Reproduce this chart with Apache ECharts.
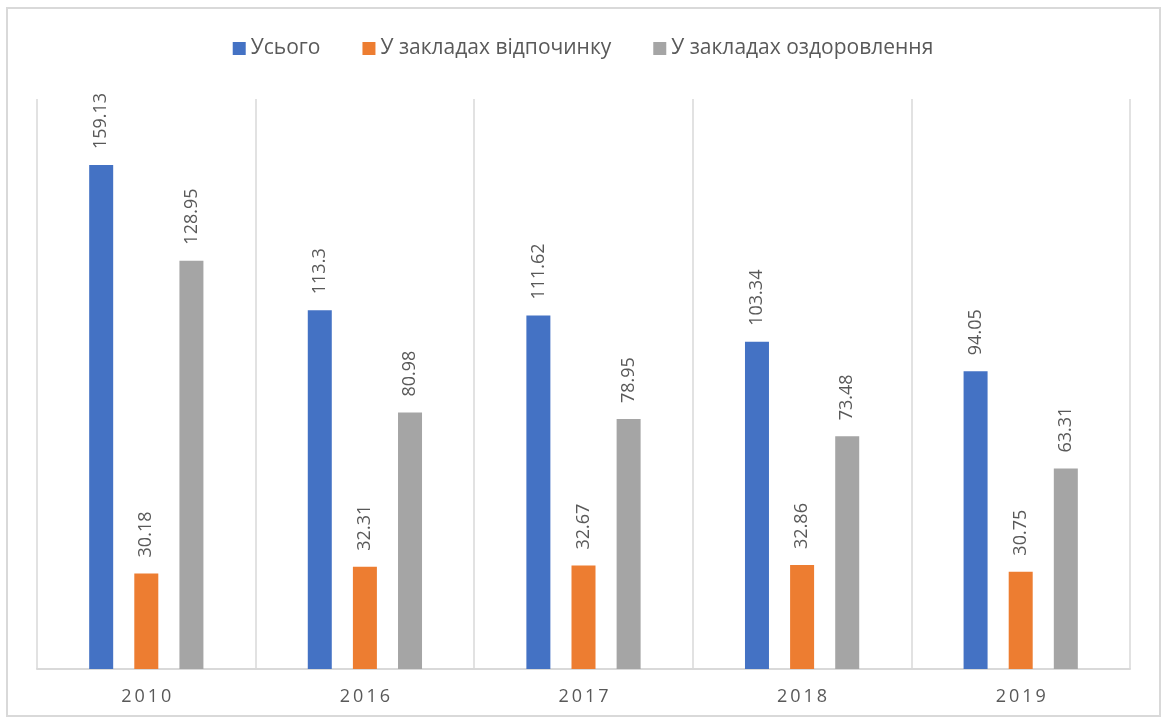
<!DOCTYPE html>
<html>
<head>
<meta charset="utf-8">
<script src="https://cdn.jsdelivr.net/npm/echarts@6/dist/echarts.min.js"></script>
<style>
  html, body { margin: 0; padding: 0; background: #fff; }
  #main { width: 1166px; height: 724px; }
</style>
</head>
<body>
<div id="main"></div>
<script>
// роки
var years = ['2010', '2016', '2017', '2018', '2019'];
// значення рядів
var total = [159.13, 113.3, 111.62, 103.34, 94.05];
var rest = [30.18, 32.31, 32.67, 32.86, 30.75];
var health = [128.95, 80.98, 78.95, 73.48, 63.31];
var seriesNames = ['Усього', 'У закладах відпочинку', 'У закладах оздоровлення'];
var colors = ['#4472C4', '#ED7D31', '#A5A5A5'];

var font = '"Open Sans", "Noto Sans", sans-serif';
var textColor = '#595959';
var lineColor = '#D9D9D9';

var chart = echarts.init(document.getElementById('main'));

function barSeries(name, data, color) {
  return {
    name: name,
    type: 'bar',
    data: data,
    barWidth: 24,
    barGap: '88%',
    itemStyle: { color: color },
    label: {
      show: true,
      position: 'top',
      rotate: 90,
      align: 'left',
      verticalAlign: 'middle',
      distance: 16,
      color: textColor,
      fontSize: 18,
      fontFamily: font
    }
  };
}

var option = {
  animation: false,
  color: colors,
  graphic: [{
    type: 'rect',
    shape: { x: 7, y: 8, width: 1153, height: 708 },
    style: { fill: 'none', stroke: lineColor, lineWidth: 2 },
    silent: true
  }],
  legend: {
    top: 33,
    left: 'center',
    icon: 'rect',
    itemWidth: 13,
    itemHeight: 13,
    itemGap: 42,
    textStyle: { color: textColor, fontSize: 21, fontFamily: font }
  },
  grid: { left: 37, right: 36, top: 99, bottom: 55 },
  xAxis: {
    type: 'category',
    data: years,
    axisLine: { lineStyle: { color: lineColor, width: 2 } },
    axisTick: { show: false },
    axisLabel: {
      color: textColor,
      fontSize: 18,
      fontFamily: font,
      margin: 19,
      formatter: function (v) { return v.split('').join('\u2009'); }
    },
    splitLine: { show: true, lineStyle: { color: lineColor, width: 1.5 } }
  },
  yAxis: {
    type: 'value',
    min: 0,
    max: 180,
    show: false,
    splitLine: { show: false }
  },
  series: [
    barSeries(seriesNames[0], total, colors[0]),
    barSeries(seriesNames[1], rest, colors[1]),
    barSeries(seriesNames[2], health, colors[2])
  ]
};

chart.setOption(option);
</script>
</body>
</html>
